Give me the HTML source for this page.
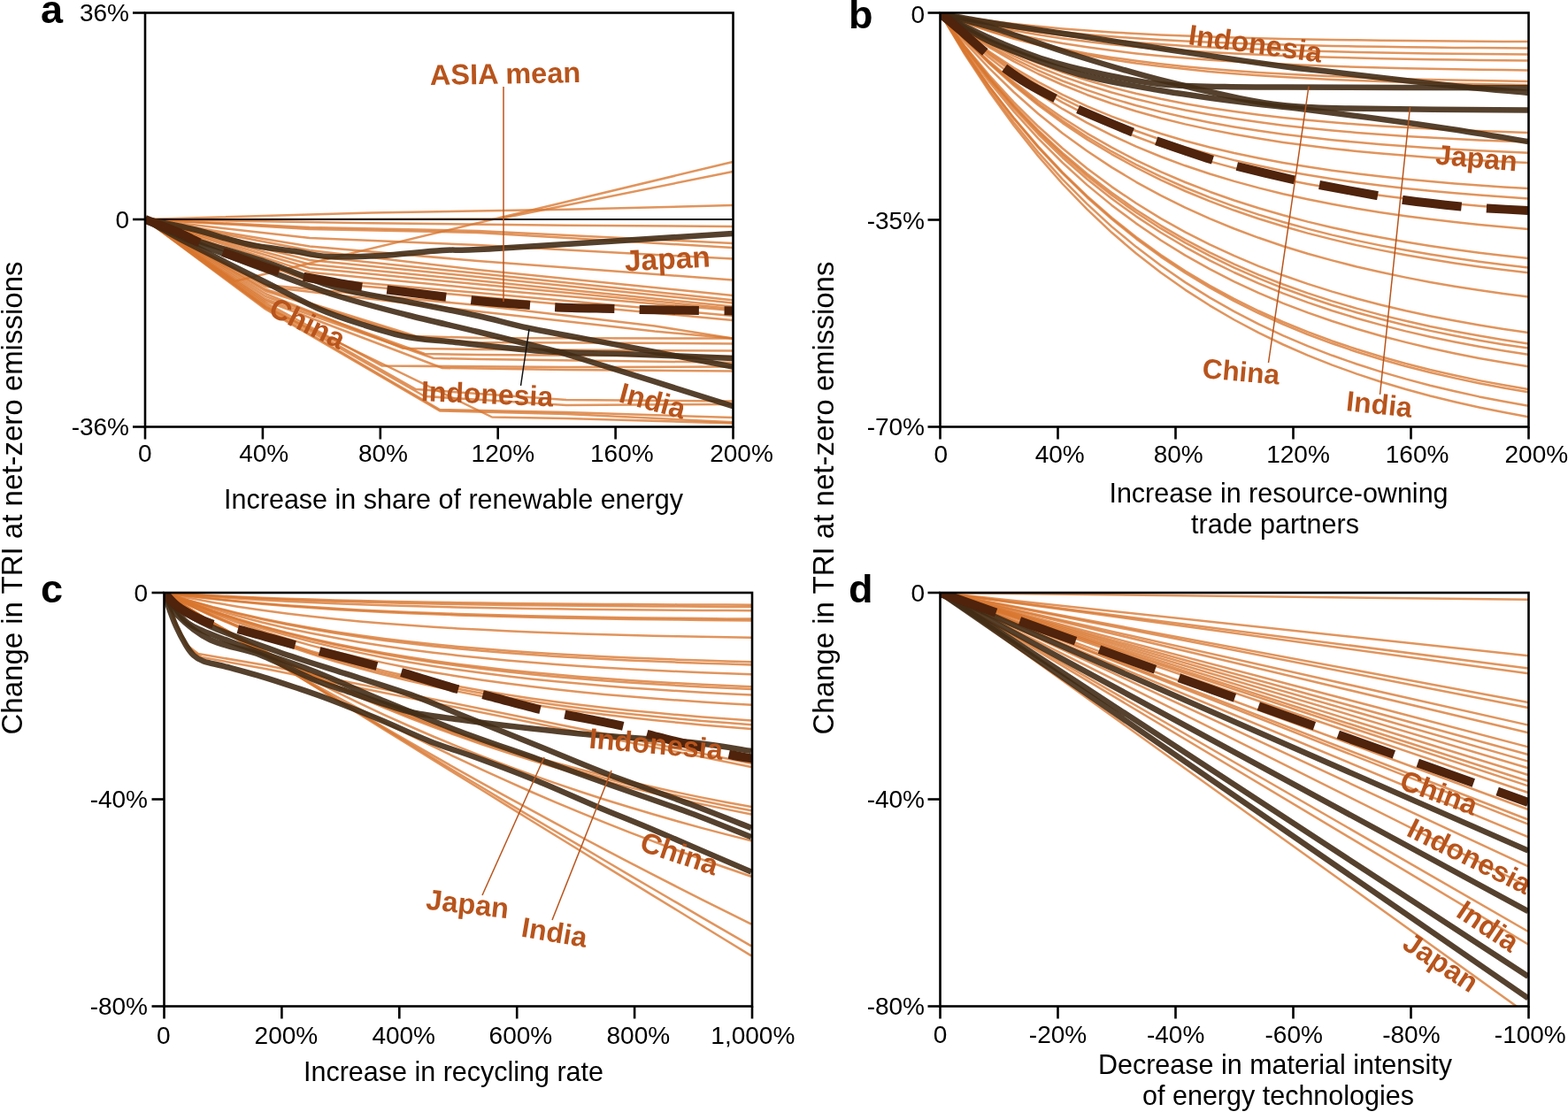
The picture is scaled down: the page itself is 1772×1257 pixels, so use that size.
<!DOCTYPE html>
<html><head><meta charset="utf-8"><title>Change in TRI at net-zero emissions</title>
<style>html,body{margin:0;padding:0;background:#fff;}svg{display:block;}</style>
</head><body>
<svg width="1772" height="1257" viewBox="0 0 1772 1257">
<defs>
<clipPath id="ca"><rect x="164" y="14.5" width="664.5" height="468.0"/></clipPath>
<clipPath id="cb"><rect x="1062.5" y="14.5" width="665.0" height="468.0"/></clipPath>
<clipPath id="cc"><rect x="185.5" y="670" width="664.5" height="467.5"/></clipPath>
<clipPath id="cd"><rect x="1062.5" y="670" width="665.0" height="467.5"/></clipPath>
</defs>
<rect width="1772" height="1257" fill="#fff"/>
<g clip-path="url(#ca)">
<polyline points="164.0,248.0 265.0,318.0 828.0,183.0" fill="none" stroke="#D9762E" stroke-width="2.5" stroke-opacity="0.78" stroke-linejoin="round" />
<polyline points="164.0,248.0 563.0,247.5 828.0,194.0" fill="none" stroke="#D9762E" stroke-width="2.5" stroke-opacity="0.78" stroke-linejoin="round" />
<polyline points="164.0,248.0 420.0,240.5 640.0,236.8 828.0,232.0" fill="none" stroke="#D9762E" stroke-width="2.5" stroke-opacity="0.78" stroke-linejoin="round" />
<polyline points="164.0,248.0 420.0,252.3 640.0,254.8 828.0,256.0" fill="none" stroke="#D9762E" stroke-width="2.5" stroke-opacity="0.78" stroke-linejoin="round" />
<polyline points="164.0,248.0 350.0,257.0 540.0,261.0 828.0,275.0" fill="none" stroke="#D9762E" stroke-width="2.5" stroke-opacity="0.78" stroke-linejoin="round" />
<polyline points="164.0,248.0 350.0,259.0 540.0,263.0 828.0,280.0" fill="none" stroke="#D9762E" stroke-width="2.5" stroke-opacity="0.78" stroke-linejoin="round" />
<polyline points="164.0,248.0 350.0,269.0 540.0,277.0 828.0,292.6" fill="none" stroke="#D9762E" stroke-width="2.5" stroke-opacity="0.78" stroke-linejoin="round" />
<polyline points="164.0,248.0 350.0,278.4 540.0,295.0 828.0,316.5" fill="none" stroke="#D9762E" stroke-width="2.5" stroke-opacity="0.78" stroke-linejoin="round" />
<polyline points="164.0,248.0 350.0,282.9 540.0,305.0 828.0,334.0" fill="none" stroke="#D9762E" stroke-width="2.5" stroke-opacity="0.78" stroke-linejoin="round" />
<polyline points="164.0,248.0 350.0,289.6 540.0,309.0 828.0,339.3" fill="none" stroke="#D9762E" stroke-width="2.5" stroke-opacity="0.78" stroke-linejoin="round" />
<polyline points="164.0,248.0 350.0,294.0 540.0,313.0 828.0,342.6" fill="none" stroke="#D9762E" stroke-width="2.5" stroke-opacity="0.78" stroke-linejoin="round" />
<polyline points="164.0,248.0 350.0,298.7 540.0,317.2 828.0,346.6" fill="none" stroke="#D9762E" stroke-width="2.5" stroke-opacity="0.78" stroke-linejoin="round" />
<polyline points="164.0,248.0 350.0,303.0 540.0,321.3 828.0,349.0" fill="none" stroke="#D9762E" stroke-width="2.5" stroke-opacity="0.78" stroke-linejoin="round" />
<polyline points="164.0,248.0 350.0,307.7 540.0,326.2 828.0,351.0" fill="none" stroke="#D9762E" stroke-width="2.5" stroke-opacity="0.78" stroke-linejoin="round" />
<polyline points="164.0,248.0 350.0,314.5 540.0,331.0 828.0,357.0" fill="none" stroke="#D9762E" stroke-width="2.5" stroke-opacity="0.78" stroke-linejoin="round" />
<polyline points="164.0,248.0 350.0,318.0 540.0,335.2 828.0,362.0" fill="none" stroke="#D9762E" stroke-width="2.5" stroke-opacity="0.78" stroke-linejoin="round" />
<polyline points="164.0,248.0 300.0,322.0 540.0,345.0 740.0,368.6 828.0,382.4" fill="none" stroke="#D9762E" stroke-width="2.5" stroke-opacity="0.78" stroke-linejoin="round" />
<polyline points="164.0,248.0 300.0,324.0 540.0,352.0 740.0,374.6 828.0,382.4" fill="none" stroke="#D9762E" stroke-width="2.5" stroke-opacity="0.78" stroke-linejoin="round" />
<polyline points="164.0,248.0 300.0,327.0 470.0,380.0 540.0,382.0 828.0,382.6" fill="none" stroke="#D9762E" stroke-width="2.5" stroke-opacity="0.78" stroke-linejoin="round" />
<polyline points="164.0,248.0 300.0,329.0 480.0,385.0 540.0,387.0 828.0,388.4" fill="none" stroke="#D9762E" stroke-width="2.5" stroke-opacity="0.78" stroke-linejoin="round" />
<polyline points="164.0,248.0 300.0,332.0 455.0,393.7 540.0,395.0 828.0,396.6" fill="none" stroke="#D9762E" stroke-width="2.5" stroke-opacity="0.78" stroke-linejoin="round" />
<polyline points="164.0,248.0 300.0,335.0 480.0,400.0 540.0,401.0 828.0,403.0" fill="none" stroke="#D9762E" stroke-width="2.5" stroke-opacity="0.78" stroke-linejoin="round" />
<polyline points="164.0,248.0 300.0,338.0 490.0,405.0 540.0,406.0 828.0,409.7" fill="none" stroke="#D9762E" stroke-width="2.5" stroke-opacity="0.78" stroke-linejoin="round" />
<polyline points="164.0,248.0 300.0,342.0 432.0,413.6 640.0,415.0 828.0,414.6" fill="none" stroke="#D9762E" stroke-width="2.5" stroke-opacity="0.78" stroke-linejoin="round" />
<polyline points="164.0,248.0 300.0,340.0 500.0,416.0 640.0,418.0 828.0,419.5" fill="none" stroke="#D9762E" stroke-width="2.5" stroke-opacity="0.78" stroke-linejoin="round" />
<polyline points="164.0,248.0 300.0,344.0 470.0,440.0 640.0,452.0 828.0,453.4" fill="none" stroke="#D9762E" stroke-width="2.5" stroke-opacity="0.78" stroke-linejoin="round" />
<polyline points="164.0,248.0 300.0,346.0 480.0,448.0 640.0,458.0 828.0,457.0" fill="none" stroke="#D9762E" stroke-width="2.5" stroke-opacity="0.78" stroke-linejoin="round" />
<polyline points="164.0,248.0 300.0,348.0 497.0,463.0 640.0,466.0 828.0,472.0" fill="none" stroke="#D9762E" stroke-width="2.5" stroke-opacity="0.78" stroke-linejoin="round" />
<polyline points="164.0,248.0 300.0,349.5 497.0,464.5 640.0,468.0 828.0,477.2" fill="none" stroke="#D9762E" stroke-width="2.5" stroke-opacity="0.78" stroke-linejoin="round" />
<polyline points="164.0,248.0 300.0,347.0 556.0,471.5 640.0,473.0 828.0,478.4" fill="none" stroke="#D9762E" stroke-width="2.5" stroke-opacity="0.78" stroke-linejoin="round" />
<line x1="164" y1="248" x2="828.5" y2="248" stroke="#111" stroke-width="2"/>
<path d="M164.0,248.0 C173.0,249.8 198.7,254.3 218.0,259.0 C237.3,263.7 260.8,271.8 280.0,276.0 C299.2,280.2 317.8,281.7 333.0,284.0 C348.2,286.3 354.8,289.2 371.0,290.0 C387.2,290.8 408.5,290.2 430.0,289.0 C451.5,287.8 478.3,284.3 500.0,283.0 C521.7,281.7 505.3,284.2 560.0,281.0 C614.7,277.8 783.3,266.8 828.0,264.0" fill="none" stroke="#422C16" stroke-width="6.5" stroke-opacity="0.9" stroke-linejoin="round" />
<path d="M164.0,248.0 C171.7,251.3 187.3,260.0 210.0,268.0 C232.7,276.0 271.7,286.5 300.0,296.0 C328.3,305.5 353.3,317.5 380.0,325.0 C406.7,332.5 433.3,335.7 460.0,341.0 C486.7,346.3 517.0,352.0 540.0,357.0 C563.0,362.0 570.7,365.3 598.0,371.0 C625.3,376.7 665.3,383.7 704.0,391.0 C742.7,398.3 809.0,411.0 830.0,415.0" fill="none" stroke="#422C16" stroke-width="6.5" stroke-opacity="0.9" stroke-linejoin="round" />
<path d="M164.0,248.0 C171.7,251.7 187.3,260.5 210.0,270.0 C232.7,279.5 271.7,294.3 300.0,305.0 C328.3,315.7 353.3,325.5 380.0,334.0 C406.7,342.5 433.3,349.2 460.0,356.0 C486.7,362.8 513.3,368.5 540.0,375.0 C566.7,381.5 600.8,390.0 620.0,395.0 C639.2,400.0 620.0,394.2 655.0,405.0 C690.0,415.8 800.8,450.5 830.0,459.6" fill="none" stroke="#422C16" stroke-width="6.5" stroke-opacity="0.9" stroke-linejoin="round" />
<path d="M164.0,248.0 C171.2,252.0 184.3,260.2 207.0,272.0 C229.7,283.8 274.5,306.2 300.0,319.0 C325.5,331.8 341.7,341.0 360.0,349.0 C378.3,357.0 393.2,361.7 410.0,367.0 C426.8,372.3 443.5,377.7 461.0,381.0 C478.5,384.3 488.5,384.2 515.0,387.0 C541.5,389.8 588.5,395.3 620.0,397.5 C651.5,399.7 669.0,398.8 704.0,400.0 C739.0,401.2 809.0,404.2 830.0,405.0" fill="none" stroke="#422C16" stroke-width="6.5" stroke-opacity="0.9" stroke-linejoin="round" />
<path d="M164.0,248.0 C170.0,250.3 189.8,257.7 200.0,262.0 C210.2,266.3 216.3,270.2 225.0,274.0 C233.7,277.8 237.0,279.5 252.0,285.0 C267.0,290.5 299.7,302.3 315.0,307.0 C330.3,311.7 328.3,310.1 344.0,313.0 C359.7,315.9 393.3,322.1 409.0,324.5 C424.7,326.9 416.2,324.9 438.0,327.5 C459.8,330.1 513.0,337.1 540.0,340.0 C567.0,342.9 585.0,343.8 600.0,345.0 C615.0,346.2 614.2,346.8 630.0,347.5 C645.8,348.2 679.3,348.6 695.0,349.0 C710.7,349.4 708.0,349.7 724.0,350.0 C740.0,350.3 773.3,350.8 791.0,351.0 C808.7,351.2 823.5,351.4 830.0,351.5" fill="none" stroke="#4F230C" stroke-width="10" stroke-opacity="1" stroke-linejoin="round" stroke-dasharray="67 28.5"/>
</g>
<text x="486" y="96" transform="rotate(-1 486 96)" font-family="'Liberation Sans', Arial, Helvetica, sans-serif" font-weight="bold" font-size="32.5" fill="#B8541C">ASIA mean</text>
<text x="706.5" y="306.5" transform="rotate(-3 706.5 306.5)" font-family="'Liberation Sans', Arial, Helvetica, sans-serif" font-weight="bold" font-size="33.5" fill="#B8541C">Japan</text>
<text x="302" y="355.5" transform="rotate(26 302 355.5)" font-family="'Liberation Sans', Arial, Helvetica, sans-serif" font-weight="bold" font-size="32.5" fill="#B8541C">China</text>
<text x="475.5" y="453" transform="rotate(2.5 475.5 453)" font-family="'Liberation Sans', Arial, Helvetica, sans-serif" font-weight="bold" font-size="32" fill="#B8541C">Indonesia</text>
<text x="698" y="454" transform="rotate(15 698 454)" font-family="'Liberation Sans', Arial, Helvetica, sans-serif" font-weight="bold" font-size="32.5" fill="#B8541C">India</text>
<line x1="569" y1="98" x2="569" y2="341" stroke="#B8541C" stroke-width="1.5"/>
<line x1="588.5" y1="436" x2="598" y2="372" stroke="#111" stroke-width="1.5"/>
<rect x="164" y="14.5" width="664.5" height="468.0" fill="none" stroke="#000" stroke-width="2.6"/>
<line x1="150" y1="14.5" x2="164" y2="14.5" stroke="#000" stroke-width="2.6"/>
<line x1="150" y1="248" x2="164" y2="248" stroke="#000" stroke-width="2.6"/>
<line x1="150" y1="482.5" x2="164" y2="482.5" stroke="#000" stroke-width="2.6"/>
<text x="146" y="24.3" text-anchor="end" font-family="'Liberation Sans', Arial, Helvetica, sans-serif" font-size="28" fill="#000">36%</text>
<text x="146" y="257.8" text-anchor="end" font-family="'Liberation Sans', Arial, Helvetica, sans-serif" font-size="28" fill="#000">0</text>
<text x="146" y="492.3" text-anchor="end" font-family="'Liberation Sans', Arial, Helvetica, sans-serif" font-size="28" fill="#000">-36%</text>
<line x1="164.0" y1="482.5" x2="164.0" y2="496.5" stroke="#000" stroke-width="2.6"/>
<line x1="296.9" y1="482.5" x2="296.9" y2="496.5" stroke="#000" stroke-width="2.6"/>
<line x1="429.8" y1="482.5" x2="429.8" y2="496.5" stroke="#000" stroke-width="2.6"/>
<line x1="562.7" y1="482.5" x2="562.7" y2="496.5" stroke="#000" stroke-width="2.6"/>
<line x1="695.6" y1="482.5" x2="695.6" y2="496.5" stroke="#000" stroke-width="2.6"/>
<line x1="828.5" y1="482.5" x2="828.5" y2="496.5" stroke="#000" stroke-width="2.6"/>
<text x="163.8" y="521.8" text-anchor="middle" font-family="'Liberation Sans', Arial, Helvetica, sans-serif" font-size="28" fill="#000">0</text>
<text x="298.2" y="521.8" text-anchor="middle" font-family="'Liberation Sans', Arial, Helvetica, sans-serif" font-size="28" fill="#000">40%</text>
<text x="432.9" y="521.8" text-anchor="middle" font-family="'Liberation Sans', Arial, Helvetica, sans-serif" font-size="28" fill="#000">80%</text>
<text x="568.4" y="521.8" text-anchor="middle" font-family="'Liberation Sans', Arial, Helvetica, sans-serif" font-size="28" fill="#000">120%</text>
<text x="702.8" y="521.8" text-anchor="middle" font-family="'Liberation Sans', Arial, Helvetica, sans-serif" font-size="28" fill="#000">160%</text>
<text x="838" y="521.8" text-anchor="middle" font-family="'Liberation Sans', Arial, Helvetica, sans-serif" font-size="28" fill="#000">200%</text>
<g clip-path="url(#cb)">
<polyline points="1062.5,15.0 1090.2,19.6 1117.9,23.5 1145.6,26.9 1173.2,29.8 1200.9,32.4 1228.6,34.5 1256.3,36.4 1284.0,38.0 1311.7,39.4 1339.4,40.6 1367.1,41.6 1394.8,42.5 1422.4,43.2 1450.1,43.9 1477.8,44.4 1505.5,44.9 1533.2,45.3 1560.9,45.7 1588.6,46.0 1616.2,46.3 1643.9,46.5 1671.6,46.7 1699.3,46.9 1727.0,47.0" fill="none" stroke="#D9762E" stroke-width="2.5" stroke-opacity="0.78" stroke-linejoin="round" />
<polyline points="1062.5,15.0 1090.2,20.6 1117.9,25.4 1145.6,29.6 1173.2,33.2 1200.9,36.3 1228.6,39.0 1256.3,41.3 1284.0,43.3 1311.7,45.0 1339.4,46.4 1367.1,47.7 1394.8,48.8 1422.4,49.7 1450.1,50.6 1477.8,51.3 1505.5,51.9 1533.2,52.4 1560.9,52.8 1588.6,53.2 1616.2,53.6 1643.9,53.9 1671.6,54.1 1699.3,54.3 1727.0,54.5" fill="none" stroke="#D9762E" stroke-width="2.5" stroke-opacity="0.78" stroke-linejoin="round" />
<polyline points="1062.5,15.0 1090.2,21.5 1117.9,27.2 1145.6,32.1 1173.2,36.3 1200.9,39.9 1228.6,43.1 1256.3,45.8 1284.0,48.1 1311.7,50.1 1339.4,51.9 1367.1,53.4 1394.8,54.7 1422.4,55.8 1450.1,56.8 1477.8,57.6 1505.5,58.3 1533.2,59.0 1560.9,59.5 1588.6,60.0 1616.2,60.4 1643.9,60.7 1671.6,61.0 1699.3,61.3 1727.0,61.5" fill="none" stroke="#D9762E" stroke-width="2.5" stroke-opacity="0.78" stroke-linejoin="round" />
<polyline points="1062.5,15.0 1090.2,22.5 1117.9,28.9 1145.6,34.5 1173.2,39.3 1200.9,43.5 1228.6,47.1 1256.3,50.2 1284.0,52.9 1311.7,55.3 1339.4,57.3 1367.1,59.0 1394.8,60.5 1422.4,61.8 1450.1,63.0 1477.8,64.0 1505.5,64.8 1533.2,65.5 1560.9,66.2 1588.6,66.7 1616.2,67.2 1643.9,67.6 1671.6,67.9 1699.3,68.2 1727.0,68.5" fill="none" stroke="#D9762E" stroke-width="2.5" stroke-opacity="0.78" stroke-linejoin="round" />
<polyline points="1062.5,15.0 1090.2,23.9 1117.9,31.6 1145.6,38.2 1173.2,44.0 1200.9,49.0 1228.6,53.3 1256.3,57.1 1284.0,60.4 1311.7,63.2 1339.4,65.6 1367.1,67.8 1394.8,69.6 1422.4,71.2 1450.1,72.6 1477.8,73.8 1505.5,74.8 1533.2,75.7 1560.9,76.5 1588.6,77.2 1616.2,77.7 1643.9,78.2 1671.6,78.7 1699.3,79.1 1727.0,79.4" fill="none" stroke="#D9762E" stroke-width="2.5" stroke-opacity="0.78" stroke-linejoin="round" />
<polyline points="1062.5,15.0 1090.2,25.4 1117.9,34.5 1145.6,42.4 1173.2,49.3 1200.9,55.2 1228.6,60.4 1256.3,64.9 1284.0,68.8 1311.7,72.2 1339.4,75.2 1367.1,77.7 1394.8,79.9 1422.4,81.9 1450.1,83.6 1477.8,85.0 1505.5,86.3 1533.2,87.4 1560.9,88.4 1588.6,89.2 1616.2,89.9 1643.9,90.6 1671.6,91.1 1699.3,91.6 1727.0,92.0" fill="none" stroke="#D9762E" stroke-width="2.5" stroke-opacity="0.78" stroke-linejoin="round" />
<polyline points="1062.5,15.0 1090.2,25.9 1117.9,35.4 1145.6,43.7 1173.2,50.9 1200.9,57.2 1228.6,62.6 1256.3,67.3 1284.0,71.5 1311.7,75.0 1339.4,78.1 1367.1,80.9 1394.8,83.2 1422.4,85.3 1450.1,87.0 1477.8,88.6 1505.5,89.9 1533.2,91.1 1560.9,92.1 1588.6,93.0 1616.2,93.8 1643.9,94.5 1671.6,95.1 1699.3,95.6 1727.0,96.0" fill="none" stroke="#D9762E" stroke-width="2.5" stroke-opacity="0.78" stroke-linejoin="round" />
<polyline points="1062.5,15.0 1090.2,32.0 1117.9,47.0 1145.6,60.1 1173.2,71.7 1200.9,81.9 1228.6,90.9 1256.3,98.8 1284.0,105.7 1311.7,111.8 1339.4,117.2 1367.1,121.9 1394.8,126.1 1422.4,129.7 1450.1,133.0 1477.8,135.8 1505.5,138.3 1533.2,140.5 1560.9,142.4 1588.6,144.1 1616.2,145.6 1643.9,146.9 1671.6,148.1 1699.3,149.1 1727.0,150.0" fill="none" stroke="#D9762E" stroke-width="2.5" stroke-opacity="0.78" stroke-linejoin="round" />
<polyline points="1062.5,15.0 1090.2,33.1 1117.9,49.0 1145.6,63.1 1173.2,75.5 1200.9,86.4 1228.6,96.0 1256.3,104.5 1284.0,112.0 1311.7,118.6 1339.4,124.5 1367.1,129.6 1394.8,134.1 1422.4,138.1 1450.1,141.7 1477.8,144.8 1505.5,147.5 1533.2,149.9 1560.9,152.1 1588.6,153.9 1616.2,155.6 1643.9,157.1 1671.6,158.4 1699.3,159.5 1727.0,160.5" fill="none" stroke="#D9762E" stroke-width="2.5" stroke-opacity="0.78" stroke-linejoin="round" />
<polyline points="1062.5,15.0 1090.2,34.3 1117.9,51.3 1145.6,66.4 1173.2,79.7 1200.9,91.5 1228.6,101.9 1256.3,111.1 1284.0,119.2 1311.7,126.4 1339.4,132.8 1367.1,138.4 1394.8,143.4 1422.4,147.8 1450.1,151.7 1477.8,155.1 1505.5,158.2 1533.2,160.8 1560.9,163.2 1588.6,165.3 1616.2,167.2 1643.9,168.8 1671.6,170.3 1699.3,171.6 1727.0,172.7" fill="none" stroke="#D9762E" stroke-width="2.5" stroke-opacity="0.78" stroke-linejoin="round" />
<polyline points="1062.5,15.0 1090.2,35.3 1117.9,53.4 1145.6,69.3 1173.2,83.5 1200.9,96.0 1228.6,107.2 1256.3,117.0 1284.0,125.8 1311.7,133.5 1339.4,140.4 1367.1,146.4 1394.8,151.8 1422.4,156.6 1450.1,160.9 1477.8,164.6 1505.5,167.9 1533.2,170.9 1560.9,173.5 1588.6,175.8 1616.2,177.9 1643.9,179.7 1671.6,181.3 1699.3,182.7 1727.0,184.0" fill="none" stroke="#D9762E" stroke-width="2.5" stroke-opacity="0.78" stroke-linejoin="round" />
<polyline points="1062.5,15.0 1090.2,37.9 1117.9,58.3 1145.6,76.5 1173.2,92.7 1200.9,107.2 1228.6,120.1 1256.3,131.6 1284.0,141.9 1311.7,151.0 1339.4,159.2 1367.1,166.5 1394.8,173.0 1422.4,178.8 1450.1,184.0 1477.8,188.6 1505.5,192.7 1533.2,196.3 1560.9,199.6 1588.6,202.5 1616.2,205.1 1643.9,207.4 1671.6,209.5 1699.3,211.4 1727.0,213.0" fill="none" stroke="#D9762E" stroke-width="2.5" stroke-opacity="0.78" stroke-linejoin="round" />
<polyline points="1062.5,15.0 1090.2,38.8 1117.9,60.1 1145.6,79.1 1173.2,96.1 1200.9,111.4 1228.6,124.9 1256.3,137.1 1284.0,148.0 1311.7,157.7 1339.4,166.4 1367.1,174.1 1394.8,181.1 1422.4,187.3 1450.1,192.9 1477.8,197.8 1505.5,202.2 1533.2,206.2 1560.9,209.8 1588.6,212.9 1616.2,215.8 1643.9,218.3 1671.6,220.6 1699.3,222.6 1727.0,224.4" fill="none" stroke="#D9762E" stroke-width="2.5" stroke-opacity="0.78" stroke-linejoin="round" />
<polyline points="1062.5,15.0 1090.2,39.8 1117.9,62.0 1145.6,81.9 1173.2,99.8 1200.9,115.8 1228.6,130.1 1256.3,143.0 1284.0,154.5 1311.7,164.9 1339.4,174.1 1367.1,182.4 1394.8,189.9 1422.4,196.6 1450.1,202.6 1477.8,207.9 1505.5,212.7 1533.2,217.0 1560.9,220.9 1588.6,224.4 1616.2,227.5 1643.9,230.3 1671.6,232.8 1699.3,235.0 1727.0,237.0" fill="none" stroke="#D9762E" stroke-width="2.5" stroke-opacity="0.78" stroke-linejoin="round" />
<polyline points="1062.5,15.0 1090.2,41.4 1117.9,65.1 1145.6,86.5 1173.2,105.8 1200.9,123.2 1228.6,138.8 1256.3,152.9 1284.0,165.6 1311.7,177.0 1339.4,187.3 1367.1,196.5 1394.8,204.9 1422.4,212.4 1450.1,219.2 1477.8,225.3 1505.5,230.8 1533.2,235.7 1560.9,240.2 1588.6,244.2 1616.2,247.8 1643.9,251.0 1671.6,254.0 1699.3,256.6 1727.0,259.0" fill="none" stroke="#D9762E" stroke-width="2.5" stroke-opacity="0.78" stroke-linejoin="round" />
<polyline points="1062.5,15.0 1090.2,43.5 1117.9,69.3 1145.6,92.8 1173.2,114.0 1200.9,133.3 1228.6,150.8 1256.3,166.7 1284.0,181.1 1311.7,194.1 1339.4,206.0 1367.1,216.7 1394.8,226.5 1422.4,235.3 1450.1,243.3 1477.8,250.6 1505.5,257.2 1533.2,263.2 1560.9,268.6 1588.6,273.5 1616.2,278.0 1643.9,282.1 1671.6,285.7 1699.3,289.1 1727.0,292.1" fill="none" stroke="#D9762E" stroke-width="2.5" stroke-opacity="0.78" stroke-linejoin="round" />
<polyline points="1062.5,15.0 1090.2,44.2 1117.9,70.7 1145.6,94.8 1173.2,116.7 1200.9,136.6 1228.6,154.7 1256.3,171.2 1284.0,186.1 1311.7,199.7 1339.4,212.0 1367.1,223.2 1394.8,233.4 1422.4,242.6 1450.1,251.0 1477.8,258.6 1505.5,265.6 1533.2,271.9 1560.9,277.6 1588.6,282.8 1616.2,287.5 1643.9,291.8 1671.6,295.7 1699.3,299.3 1727.0,302.5" fill="none" stroke="#D9762E" stroke-width="2.5" stroke-opacity="0.78" stroke-linejoin="round" />
<polyline points="1062.5,15.0 1090.2,44.8 1117.9,71.9 1145.6,96.5 1173.2,118.8 1200.9,139.1 1228.6,157.6 1256.3,174.3 1284.0,189.5 1311.7,203.4 1339.4,216.0 1367.1,227.4 1394.8,237.8 1422.4,247.2 1450.1,255.8 1477.8,263.6 1505.5,270.6 1533.2,277.1 1560.9,282.9 1588.6,288.2 1616.2,293.0 1643.9,297.4 1671.6,301.4 1699.3,305.0 1727.0,308.3" fill="none" stroke="#D9762E" stroke-width="2.5" stroke-opacity="0.78" stroke-linejoin="round" />
<polyline points="1062.5,15.0 1090.2,47.6 1117.9,77.1 1145.6,104.0 1173.2,128.5 1200.9,150.7 1228.6,170.8 1256.3,189.1 1284.0,205.8 1311.7,220.9 1339.4,234.7 1367.1,247.2 1394.8,258.5 1422.4,268.8 1450.1,278.2 1477.8,286.7 1505.5,294.4 1533.2,301.5 1560.9,307.8 1588.6,313.6 1616.2,318.9 1643.9,323.7 1671.6,328.1 1699.3,332.0 1727.0,335.6" fill="none" stroke="#D9762E" stroke-width="2.5" stroke-opacity="0.78" stroke-linejoin="round" />
<polyline points="1062.5,15.0 1090.2,51.7 1117.9,85.0 1145.6,115.3 1173.2,142.8 1200.9,167.7 1228.6,190.5 1256.3,211.1 1284.0,229.8 1311.7,246.9 1339.4,262.3 1367.1,276.4 1394.8,289.2 1422.4,300.8 1450.1,311.3 1477.8,320.9 1505.5,329.6 1533.2,337.5 1560.9,344.7 1588.6,351.3 1616.2,357.2 1643.9,362.6 1671.6,367.5 1699.3,372.0 1727.0,376.0" fill="none" stroke="#D9762E" stroke-width="2.5" stroke-opacity="0.78" stroke-linejoin="round" />
<polyline points="1062.5,15.0 1090.2,52.9 1117.9,87.4 1145.6,118.7 1173.2,147.1 1200.9,173.0 1228.6,196.5 1256.3,217.8 1284.0,237.2 1311.7,254.8 1339.4,270.8 1367.1,285.4 1394.8,298.6 1422.4,310.6 1450.1,321.5 1477.8,331.4 1505.5,340.4 1533.2,348.6 1560.9,356.1 1588.6,362.8 1616.2,369.0 1643.9,374.5 1671.6,379.6 1699.3,384.2 1727.0,388.4" fill="none" stroke="#D9762E" stroke-width="2.5" stroke-opacity="0.78" stroke-linejoin="round" />
<polyline points="1062.5,15.0 1090.2,53.5 1117.9,88.4 1145.6,120.1 1173.2,149.0 1200.9,175.2 1228.6,199.0 1256.3,220.6 1284.0,240.3 1311.7,258.2 1339.4,274.4 1367.1,289.2 1394.8,302.6 1422.4,314.7 1450.1,325.8 1477.8,335.8 1505.5,345.0 1533.2,353.3 1560.9,360.8 1588.6,367.7 1616.2,373.9 1643.9,379.5 1671.6,384.7 1699.3,389.4 1727.0,393.6" fill="none" stroke="#D9762E" stroke-width="2.5" stroke-opacity="0.78" stroke-linejoin="round" />
<polyline points="1062.5,15.0 1090.2,54.2 1117.9,89.8 1145.6,122.1 1173.2,151.5 1200.9,178.2 1228.6,202.5 1256.3,224.6 1284.0,244.6 1311.7,262.8 1339.4,279.3 1367.1,294.4 1394.8,308.0 1422.4,320.4 1450.1,331.7 1477.8,341.9 1505.5,351.3 1533.2,359.7 1560.9,367.4 1588.6,374.4 1616.2,380.7 1643.9,386.5 1671.6,391.7 1699.3,396.5 1727.0,400.8" fill="none" stroke="#D9762E" stroke-width="2.5" stroke-opacity="0.78" stroke-linejoin="round" />
<polyline points="1062.5,15.0 1090.2,55.6 1117.9,92.4 1145.6,125.9 1173.2,156.3 1200.9,184.0 1228.6,209.1 1256.3,231.9 1284.0,252.6 1311.7,271.5 1339.4,288.6 1367.1,304.1 1394.8,318.3 1422.4,331.1 1450.1,342.8 1477.8,353.4 1505.5,363.0 1533.2,371.8 1560.9,379.7 1588.6,386.9 1616.2,393.5 1643.9,399.5 1671.6,404.9 1699.3,409.8 1727.0,414.3" fill="none" stroke="#D9762E" stroke-width="2.5" stroke-opacity="0.78" stroke-linejoin="round" />
<polyline points="1062.5,15.0 1090.2,58.2 1117.9,97.4 1145.6,133.1 1173.2,165.4 1200.9,194.9 1228.6,221.6 1256.3,245.9 1284.0,268.0 1311.7,288.0 1339.4,306.3 1367.1,322.8 1394.8,337.9 1422.4,351.5 1450.1,364.0 1477.8,375.2 1505.5,385.5 1533.2,394.8 1560.9,403.3 1588.6,411.0 1616.2,418.0 1643.9,424.3 1671.6,430.1 1699.3,435.3 1727.0,440.1" fill="none" stroke="#D9762E" stroke-width="2.5" stroke-opacity="0.78" stroke-linejoin="round" />
<polyline points="1062.5,15.0 1090.2,58.5 1117.9,98.0 1145.6,133.9 1173.2,166.6 1200.9,196.2 1228.6,223.2 1256.3,247.6 1284.0,269.9 1311.7,290.1 1339.4,308.5 1367.1,325.1 1394.8,340.3 1422.4,354.1 1450.1,366.6 1477.8,378.0 1505.5,388.3 1533.2,397.7 1560.9,406.2 1588.6,414.0 1616.2,421.0 1643.9,427.4 1671.6,433.2 1699.3,438.5 1727.0,443.3" fill="none" stroke="#D9762E" stroke-width="2.5" stroke-opacity="0.78" stroke-linejoin="round" />
<polyline points="1062.5,15.0 1090.2,60.1 1117.9,101.0 1145.6,138.2 1173.2,172.1 1200.9,202.8 1228.6,230.7 1256.3,256.1 1284.0,279.1 1311.7,300.0 1339.4,319.1 1367.1,336.4 1394.8,352.1 1422.4,366.3 1450.1,379.3 1477.8,391.1 1505.5,401.8 1533.2,411.5 1560.9,420.4 1588.6,428.4 1616.2,435.7 1643.9,442.3 1671.6,448.4 1699.3,453.8 1727.0,458.8" fill="none" stroke="#D9762E" stroke-width="2.5" stroke-opacity="0.78" stroke-linejoin="round" />
<polyline points="1062.5,15.0 1090.2,61.3 1117.9,103.4 1145.6,141.7 1173.2,176.4 1200.9,208.0 1228.6,236.7 1256.3,262.8 1284.0,286.5 1311.7,308.0 1339.4,327.6 1367.1,345.3 1394.8,361.5 1422.4,376.2 1450.1,389.5 1477.8,401.6 1505.5,412.6 1533.2,422.6 1560.9,431.7 1588.6,440.0 1616.2,447.5 1643.9,454.3 1671.6,460.5 1699.3,466.1 1727.0,471.2" fill="none" stroke="#D9762E" stroke-width="2.5" stroke-opacity="0.78" stroke-linejoin="round" />
<path d="M1062.5,15.0 C1067.9,16.1 1084.1,19.5 1095.0,21.5 C1105.9,23.5 1105.7,23.6 1128.0,27.0 C1150.3,30.4 1200.3,37.7 1229.0,42.0 C1257.7,46.3 1278.2,49.7 1300.0,53.0 C1321.8,56.3 1335.0,58.3 1360.0,62.0 C1385.0,65.7 1426.8,71.9 1450.0,75.0 C1473.2,78.1 1470.2,77.2 1499.0,80.5 C1527.8,83.8 1585.0,90.9 1623.0,95.0 C1661.0,99.1 1709.7,103.3 1727.0,105.0" fill="none" stroke="#422C16" stroke-width="6.5" stroke-opacity="0.9" stroke-linejoin="round" />
<path d="M1062.5,15.0 C1067.9,16.5 1083.8,20.8 1095.0,24.0 C1106.2,27.2 1109.2,27.3 1130.0,34.0 C1150.8,40.7 1190.0,54.7 1220.0,64.0 C1250.0,73.3 1280.0,82.2 1310.0,90.0 C1340.0,97.8 1376.7,106.2 1400.0,111.0 C1423.3,115.8 1430.0,117.1 1450.0,119.0 C1470.0,120.9 1473.8,121.6 1520.0,122.5 C1566.2,123.4 1692.5,124.2 1727.0,124.6" fill="none" stroke="#422C16" stroke-width="6.5" stroke-opacity="0.9" stroke-linejoin="round" />
<path d="M1062.5,15.0 C1067.9,17.8 1083.8,26.5 1095.0,32.0 C1106.2,37.5 1115.8,42.2 1130.0,48.0 C1144.2,53.8 1162.0,61.3 1180.0,67.0 C1198.0,72.7 1216.3,77.3 1238.0,82.0 C1259.7,86.7 1286.3,92.3 1310.0,95.0 C1333.7,97.7 1356.7,97.4 1380.0,98.0 C1403.3,98.6 1392.2,98.4 1450.0,98.6 C1507.8,98.8 1680.8,99.1 1727.0,99.2" fill="none" stroke="#422C16" stroke-width="6.5" stroke-opacity="0.9" stroke-linejoin="round" />
<path d="M1062.5,15.0 C1067.9,18.2 1083.8,27.8 1095.0,34.0 C1106.2,40.2 1109.2,43.7 1130.0,52.0 C1150.8,60.3 1190.0,75.7 1220.0,84.0 C1250.0,92.3 1280.0,96.8 1310.0,102.0 C1340.0,107.2 1373.3,111.5 1400.0,115.0 C1426.7,118.5 1445.3,120.0 1470.0,123.0 C1494.7,126.0 1519.7,129.2 1548.0,133.0 C1576.3,136.8 1610.2,141.5 1640.0,146.0 C1669.8,150.5 1712.5,157.7 1727.0,160.0" fill="none" stroke="#422C16" stroke-width="6.5" stroke-opacity="0.9" stroke-linejoin="round" />
<path d="M1062.5,15.0 C1066.2,18.2 1076.9,27.0 1085.0,34.0 C1093.1,41.0 1102.8,50.0 1111.0,57.0 C1119.2,64.0 1125.5,69.7 1134.0,76.0 C1142.5,82.3 1152.2,89.1 1162.0,95.0 C1171.8,100.9 1183.8,106.8 1193.0,111.5 C1202.2,116.2 1202.5,116.7 1217.0,123.0 C1231.5,129.3 1265.2,143.5 1280.0,149.5 C1294.8,155.5 1291.3,153.9 1306.0,159.0 C1320.7,164.1 1352.7,175.2 1368.0,180.0 C1383.3,184.8 1382.5,184.2 1398.0,188.0 C1413.5,191.8 1445.5,199.5 1461.0,203.0 C1476.5,206.5 1475.2,206.0 1491.0,209.0 C1506.8,212.0 1540.2,218.2 1556.0,221.0 C1571.8,223.8 1570.2,223.9 1586.0,226.0 C1601.8,228.1 1635.2,231.9 1651.0,233.5 C1666.8,235.1 1668.3,234.8 1681.0,235.5 C1693.7,236.2 1719.3,237.6 1727.0,238.0" fill="none" stroke="#4F230C" stroke-width="10" stroke-opacity="1" stroke-linejoin="round" stroke-dasharray="67 28.5"/>
</g>
<text x="1342" y="50" transform="rotate(7.8 1342 50)" font-family="'Liberation Sans', Arial, Helvetica, sans-serif" font-weight="bold" font-size="32.5" fill="#B8541C">Indonesia</text>
<text x="1621.5" y="185.5" transform="rotate(5 1621.5 185.5)" font-family="'Liberation Sans', Arial, Helvetica, sans-serif" font-weight="bold" font-size="32" fill="#B8541C">Japan</text>
<text x="1358" y="427" transform="rotate(5 1358 427)" font-family="'Liberation Sans', Arial, Helvetica, sans-serif" font-weight="bold" font-size="31.5" fill="#B8541C">China</text>
<text x="1520.5" y="464" transform="rotate(6 1520.5 464)" font-family="'Liberation Sans', Arial, Helvetica, sans-serif" font-weight="bold" font-size="32" fill="#B8541C">India</text>
<line x1="1433.5" y1="410" x2="1479" y2="97.5" stroke="#B8541C" stroke-width="1.5"/>
<line x1="1559.5" y1="446" x2="1593.5" y2="121" stroke="#B8541C" stroke-width="1.5"/>
<rect x="1062.5" y="14.5" width="665.0" height="468.0" fill="none" stroke="#000" stroke-width="2.6"/>
<line x1="1048.5" y1="14.5" x2="1062.5" y2="14.5" stroke="#000" stroke-width="2.6"/>
<line x1="1048.5" y1="248.5" x2="1062.5" y2="248.5" stroke="#000" stroke-width="2.6"/>
<line x1="1048.5" y1="482.5" x2="1062.5" y2="482.5" stroke="#000" stroke-width="2.6"/>
<text x="1045" y="26.3" text-anchor="end" font-family="'Liberation Sans', Arial, Helvetica, sans-serif" font-size="28" fill="#000">0</text>
<text x="1045" y="258.8" text-anchor="end" font-family="'Liberation Sans', Arial, Helvetica, sans-serif" font-size="28" fill="#000">-35%</text>
<text x="1045" y="492.3" text-anchor="end" font-family="'Liberation Sans', Arial, Helvetica, sans-serif" font-size="28" fill="#000">-70%</text>
<line x1="1062.5" y1="482.5" x2="1062.5" y2="496.5" stroke="#000" stroke-width="2.6"/>
<line x1="1195.5" y1="482.5" x2="1195.5" y2="496.5" stroke="#000" stroke-width="2.6"/>
<line x1="1328.5" y1="482.5" x2="1328.5" y2="496.5" stroke="#000" stroke-width="2.6"/>
<line x1="1461.5" y1="482.5" x2="1461.5" y2="496.5" stroke="#000" stroke-width="2.6"/>
<line x1="1594.5" y1="482.5" x2="1594.5" y2="496.5" stroke="#000" stroke-width="2.6"/>
<line x1="1727.5" y1="482.5" x2="1727.5" y2="496.5" stroke="#000" stroke-width="2.6"/>
<text x="1063.3" y="522.5" text-anchor="middle" font-family="'Liberation Sans', Arial, Helvetica, sans-serif" font-size="28" fill="#000">0</text>
<text x="1197.7" y="522.5" text-anchor="middle" font-family="'Liberation Sans', Arial, Helvetica, sans-serif" font-size="28" fill="#000">40%</text>
<text x="1331.7" y="522.5" text-anchor="middle" font-family="'Liberation Sans', Arial, Helvetica, sans-serif" font-size="28" fill="#000">80%</text>
<text x="1467" y="522.5" text-anchor="middle" font-family="'Liberation Sans', Arial, Helvetica, sans-serif" font-size="28" fill="#000">120%</text>
<text x="1601.6" y="522.5" text-anchor="middle" font-family="'Liberation Sans', Arial, Helvetica, sans-serif" font-size="28" fill="#000">160%</text>
<text x="1736.3" y="522.5" text-anchor="middle" font-family="'Liberation Sans', Arial, Helvetica, sans-serif" font-size="28" fill="#000">200%</text>
<g clip-path="url(#cc)">
<polyline points="185.5,670.0 213.1,671.7 240.8,673.2 268.4,674.5 296.1,675.7 323.7,676.7 351.4,677.6 379.0,678.4 406.7,679.1 434.3,679.7 462.0,680.3 489.6,680.8 517.2,681.2 544.9,681.6 572.5,681.9 600.2,682.2 627.8,682.5 655.5,682.7 683.1,682.9 710.8,683.1 738.4,683.2 766.1,683.4 793.7,683.5 821.4,683.6 849.0,683.7" fill="none" stroke="#D9762E" stroke-width="2.5" stroke-opacity="0.78" stroke-linejoin="round" />
<polyline points="185.5,670.0 213.1,672.0 240.8,673.7 268.4,675.2 296.1,676.6 323.7,677.8 351.4,678.9 379.0,679.8 406.7,680.6 434.3,681.3 462.0,682.0 489.6,682.6 517.2,683.1 544.9,683.5 572.5,683.9 600.2,684.2 627.8,684.5 655.5,684.8 683.1,685.1 710.8,685.3 738.4,685.5 766.1,685.6 793.7,685.8 821.4,685.9 849.0,686.0" fill="none" stroke="#D9762E" stroke-width="2.5" stroke-opacity="0.78" stroke-linejoin="round" />
<polyline points="185.5,670.0 213.1,672.5 240.8,674.6 268.4,676.6 296.1,678.3 323.7,679.8 351.4,681.1 379.0,682.3 406.7,683.3 434.3,684.3 462.0,685.1 489.6,685.8 517.2,686.4 544.9,687.0 572.5,687.5 600.2,687.9 627.8,688.3 655.5,688.7 683.1,689.0 710.8,689.3 738.4,689.5 766.1,689.7 793.7,689.9 821.4,690.1 849.0,690.2" fill="none" stroke="#D9762E" stroke-width="2.5" stroke-opacity="0.78" stroke-linejoin="round" />
<polyline points="185.5,670.0 213.1,673.5 240.8,676.7 268.4,679.5 296.1,682.0 323.7,684.2 351.4,686.1 379.0,687.8 406.7,689.4 434.3,690.7 462.0,691.9 489.6,693.0 517.2,693.9 544.9,694.8 572.5,695.5 600.2,696.2 627.8,696.8 655.5,697.3 683.1,697.7 710.8,698.2 738.4,698.5 766.1,698.8 793.7,699.1 821.4,699.4 849.0,699.6" fill="none" stroke="#D9762E" stroke-width="2.5" stroke-opacity="0.78" stroke-linejoin="round" />
<polyline points="185.5,670.0 213.1,673.7 240.8,677.1 268.4,680.0 296.1,682.7 323.7,685.0 351.4,687.0 379.0,688.9 406.7,690.5 434.3,691.9 462.0,693.2 489.6,694.3 517.2,695.4 544.9,696.3 572.5,697.0 600.2,697.7 627.8,698.4 655.5,698.9 683.1,699.4 710.8,699.9 738.4,700.2 766.1,700.6 793.7,700.9 821.4,701.2 849.0,701.4" fill="none" stroke="#D9762E" stroke-width="2.5" stroke-opacity="0.78" stroke-linejoin="round" />
<polyline points="185.5,670.0 213.1,675.8 240.8,681.0 268.4,685.7 296.1,689.8 323.7,693.5 351.4,696.8 379.0,699.7 406.7,702.4 434.3,704.7 462.0,706.8 489.6,708.7 517.2,710.4 544.9,711.8 572.5,713.2 600.2,714.4 627.8,715.4 655.5,716.4 683.1,717.2 710.8,718.0 738.4,718.7 766.1,719.3 793.7,719.8 821.4,720.3 849.0,720.7" fill="none" stroke="#D9762E" stroke-width="2.5" stroke-opacity="0.78" stroke-linejoin="round" />
<polyline points="185.5,670.0 213.1,678.5 240.8,686.1 268.4,692.9 296.1,699.1 323.7,704.7 351.4,709.7 379.0,714.2 406.7,718.3 434.3,721.9 462.0,725.2 489.6,728.2 517.2,730.9 544.9,733.3 572.5,735.5 600.2,737.4 627.8,739.2 655.5,740.7 683.1,742.2 710.8,743.5 738.4,744.6 766.1,745.7 793.7,746.6 821.4,747.4 849.0,748.2" fill="none" stroke="#D9762E" stroke-width="2.5" stroke-opacity="0.78" stroke-linejoin="round" />
<polyline points="185.5,670.0 213.1,678.7 240.8,686.6 268.4,693.7 296.1,700.1 323.7,705.9 351.4,711.1 379.0,715.8 406.7,720.1 434.3,723.9 462.0,727.3 489.6,730.4 517.2,733.2 544.9,735.7 572.5,738.0 600.2,740.0 627.8,741.9 655.5,743.5 683.1,745.0 710.8,746.4 738.4,747.6 766.1,748.7 793.7,749.7 821.4,750.6 849.0,751.4" fill="none" stroke="#D9762E" stroke-width="2.5" stroke-opacity="0.78" stroke-linejoin="round" />
<polyline points="185.5,670.0 213.1,679.7 240.8,688.4 268.4,696.3 296.1,703.5 323.7,710.0 351.4,715.8 379.0,721.1 406.7,725.9 434.3,730.2 462.0,734.2 489.6,737.7 517.2,740.9 544.9,743.8 572.5,746.4 600.2,748.8 627.8,751.0 655.5,752.9 683.1,754.7 710.8,756.3 738.4,757.7 766.1,759.0 793.7,760.2 821.4,761.2 849.0,762.2" fill="none" stroke="#D9762E" stroke-width="2.5" stroke-opacity="0.78" stroke-linejoin="round" />
<polyline points="185.5,670.0 213.1,680.8 240.8,690.6 268.4,699.5 296.1,707.6 323.7,715.0 351.4,721.6 379.0,727.7 406.7,733.2 434.3,738.2 462.0,742.8 489.6,746.9 517.2,750.7 544.9,754.1 572.5,757.2 600.2,760.0 627.8,762.6 655.5,764.9 683.1,767.0 710.8,768.9 738.4,770.7 766.1,772.3 793.7,773.7 821.4,775.0 849.0,776.2" fill="none" stroke="#D9762E" stroke-width="2.5" stroke-opacity="0.78" stroke-linejoin="round" />
<polyline points="185.5,670.0 213.1,681.0 240.8,691.0 268.4,700.1 296.1,708.4 323.7,715.9 351.4,722.8 379.0,729.0 406.7,734.6 434.3,739.8 462.0,744.5 489.6,748.7 517.2,752.6 544.9,756.1 572.5,759.3 600.2,762.2 627.8,764.9 655.5,767.3 683.1,769.5 710.8,771.5 738.4,773.3 766.1,774.9 793.7,776.4 821.4,777.8 849.0,779.0" fill="none" stroke="#D9762E" stroke-width="2.5" stroke-opacity="0.78" stroke-linejoin="round" />
<polyline points="185.5,670.0 213.1,681.5 240.8,692.0 268.4,701.5 296.1,710.2 323.7,718.1 351.4,725.4 379.0,731.9 406.7,737.9 434.3,743.4 462.0,748.4 489.6,752.9 517.2,757.1 544.9,760.8 572.5,764.3 600.2,767.4 627.8,770.2 655.5,772.8 683.1,775.2 710.8,777.4 738.4,779.3 766.1,781.1 793.7,782.8 821.4,784.2 849.0,785.6" fill="none" stroke="#D9762E" stroke-width="2.5" stroke-opacity="0.78" stroke-linejoin="round" />
<polyline points="185.5,670.0 213.1,682.3 240.8,693.5 268.4,703.8 296.1,713.2 323.7,721.8 351.4,729.6 379.0,736.8 406.7,743.4 434.3,749.4 462.0,754.9 489.6,759.9 517.2,764.5 544.9,768.7 572.5,772.5 600.2,776.0 627.8,779.2 655.5,782.2 683.1,784.9 710.8,787.3 738.4,789.6 766.1,791.6 793.7,793.5 821.4,795.2 849.0,796.8" fill="none" stroke="#D9762E" stroke-width="2.5" stroke-opacity="0.78" stroke-linejoin="round" />
<polyline points="185.5,670.0 213.1,683.4 240.8,695.7 268.4,707.1 296.1,717.5 323.7,727.1 351.4,735.9 379.0,744.0 406.7,751.5 434.3,758.4 462.0,764.7 489.6,770.5 517.2,775.8 544.9,780.7 572.5,785.2 600.2,789.4 627.8,793.2 655.5,796.7 683.1,799.9 710.8,802.9 738.4,805.6 766.1,808.1 793.7,810.4 821.4,812.5 849.0,814.5" fill="none" stroke="#D9762E" stroke-width="2.5" stroke-opacity="0.78" stroke-linejoin="round" />
<polyline points="185.5,670.0 213.1,683.7 240.8,696.3 268.4,707.9 296.1,718.6 323.7,728.4 351.4,737.5 379.0,745.9 406.7,753.6 434.3,760.6 462.0,767.2 489.6,773.2 517.2,778.7 544.9,783.8 572.5,788.5 600.2,792.8 627.8,796.8 655.5,800.5 683.1,803.9 710.8,807.0 738.4,809.8 766.1,812.5 793.7,814.9 821.4,817.1 849.0,819.2" fill="none" stroke="#D9762E" stroke-width="2.5" stroke-opacity="0.78" stroke-linejoin="round" />
<polyline points="185.5,670.0 213.1,684.0 240.8,696.8 268.4,708.7 296.1,719.7 323.7,729.8 351.4,739.1 379.0,747.7 406.7,755.6 434.3,762.9 462.0,769.6 489.6,775.9 517.2,781.6 544.9,786.9 572.5,791.8 600.2,796.3 627.8,800.4 655.5,804.2 683.1,807.8 710.8,811.0 738.4,814.0 766.1,816.8 793.7,819.4 821.4,821.7 849.0,823.9" fill="none" stroke="#D9762E" stroke-width="2.5" stroke-opacity="0.78" stroke-linejoin="round" />
<polyline points="185.5,670.0 213.1,687.4 240.8,703.8 268.4,719.4 296.1,734.3 323.7,748.3 351.4,761.6 379.0,774.3 406.7,786.2 434.3,797.6 462.0,808.4 489.6,818.6 517.2,828.3 544.9,837.5 572.5,846.2 600.2,854.5 627.8,862.3 655.5,869.8 683.1,876.8 710.8,883.5 738.4,889.8 766.1,895.9 793.7,901.6 821.4,907.0 849.0,912.1" fill="none" stroke="#D9762E" stroke-width="2.5" stroke-opacity="0.78" stroke-linejoin="round" />
<polyline points="185.5,670.0 213.1,687.5 240.8,704.0 268.4,719.8 296.1,734.7 323.7,748.9 351.4,762.4 379.0,775.2 406.7,787.3 434.3,798.9 462.0,809.8 489.6,820.2 517.2,830.1 544.9,839.5 572.5,848.4 600.2,856.9 627.8,864.9 655.5,872.5 683.1,879.8 710.8,886.7 738.4,893.2 766.1,899.4 793.7,905.3 821.4,910.9 849.0,916.2" fill="none" stroke="#D9762E" stroke-width="2.5" stroke-opacity="0.78" stroke-linejoin="round" />
<polyline points="185.5,670.0 213.1,687.5 240.8,704.2 268.4,720.1 296.1,735.1 323.7,749.5 351.4,763.1 379.0,776.1 406.7,788.4 434.3,800.1 462.0,811.3 489.6,821.9 517.2,831.9 544.9,841.5 572.5,850.6 600.2,859.3 627.8,867.5 655.5,875.4 683.1,882.8 710.8,889.9 738.4,896.6 766.1,903.0 793.7,909.1 821.4,914.9 849.0,920.4" fill="none" stroke="#D9762E" stroke-width="2.5" stroke-opacity="0.78" stroke-linejoin="round" />
<polyline points="185.5,670.0 213.1,688.0 240.8,705.2 268.4,721.8 296.1,737.7 323.7,752.9 351.4,767.6 379.0,781.6 406.7,795.1 434.3,808.1 462.0,820.5 489.6,832.5 517.2,843.9 544.9,854.9 572.5,865.5 600.2,875.6 627.8,885.4 655.5,894.7 683.1,903.7 710.8,912.3 738.4,920.5 766.1,928.5 793.7,936.1 821.4,943.4 849.0,950.4" fill="none" stroke="#D9762E" stroke-width="2.5" stroke-opacity="0.78" stroke-linejoin="round" />
<polyline points="185.5,670.0 213.1,688.1 240.8,705.8 268.4,722.9 296.1,739.6 323.7,755.8 351.4,771.5 379.0,786.8 406.7,801.7 434.3,816.2 462.0,830.3 489.6,843.9 517.2,857.2 544.9,870.2 572.5,882.7 600.2,895.0 627.8,906.9 655.5,918.4 683.1,929.6 710.8,940.6 738.4,951.2 766.1,961.5 793.7,971.6 821.4,981.3 849.0,990.8" fill="none" stroke="#D9762E" stroke-width="2.5" stroke-opacity="0.78" stroke-linejoin="round" />
<polyline points="185.5,670.0 213.1,687.7 240.8,705.2 268.4,722.5 296.1,739.6 323.7,756.5 351.4,773.3 379.0,789.8 406.7,806.2 434.3,822.4 462.0,838.4 489.6,854.2 517.2,869.8 544.9,885.3 572.5,900.6 600.2,915.7 627.8,930.7 655.5,945.5 683.1,960.1 710.8,974.6 738.4,988.9 766.1,1003.1 793.7,1017.1 821.4,1030.9 849.0,1044.6" fill="none" stroke="#D9762E" stroke-width="2.5" stroke-opacity="0.78" stroke-linejoin="round" />
<polyline points="185.5,670.0 213.1,687.3 240.8,704.5 268.4,721.7 296.1,738.8 323.7,755.9 351.4,772.9 379.0,789.8 406.7,806.7 434.3,823.5 462.0,840.3 489.6,857.0 517.2,873.7 544.9,890.3 572.5,906.9 600.2,923.4 627.8,939.8 655.5,956.2 683.1,972.5 710.8,988.8 738.4,1005.0 766.1,1021.2 793.7,1037.3 821.4,1053.4 849.0,1069.4" fill="none" stroke="#D9762E" stroke-width="2.5" stroke-opacity="0.78" stroke-linejoin="round" />
<polyline points="185.5,670.0 213.1,687.3 240.8,704.5 268.4,721.7 296.1,739.0 323.7,756.2 351.4,773.4 379.0,790.5 406.7,807.7 434.3,824.9 462.0,842.0 489.6,859.1 517.2,876.2 544.9,893.3 572.5,910.4 600.2,927.5 627.8,944.5 655.5,961.5 683.1,978.6 710.8,995.6 738.4,1012.6 766.1,1029.5 793.7,1046.5 821.4,1063.5 849.0,1080.4" fill="none" stroke="#D9762E" stroke-width="2.5" stroke-opacity="0.78" stroke-linejoin="round" />
<polyline points="185.5,670.0 198.0,702.0 211.0,729.0 224.0,739.0 300.0,752.0 849.0,863.1" fill="none" stroke="#D9762E" stroke-width="2.5" stroke-opacity="0.78" stroke-linejoin="round" />
<polyline points="185.5,670.0 199.0,706.0 213.0,733.0 228.0,743.0 300.0,756.0 849.0,866.9" fill="none" stroke="#D9762E" stroke-width="2.5" stroke-opacity="0.78" stroke-linejoin="round" />
<path d="M185.5,670.0 C187.9,672.7 191.3,679.7 200.0,686.0 C208.7,692.3 218.5,699.5 237.6,708.0 C256.6,716.5 288.7,727.8 314.3,736.7 C339.9,745.7 365.4,753.4 391.0,761.7 C416.6,770.0 446.3,778.9 467.8,786.6 C489.3,794.3 496.7,798.3 520.0,807.7 C543.3,817.1 579.5,831.6 607.7,843.0 C635.9,854.4 660.3,865.0 689.0,876.0 C717.7,887.0 753.3,899.0 780.0,909.0 C806.7,919.0 837.5,931.4 849.0,935.9" fill="none" stroke="#422C16" stroke-width="6.5" stroke-opacity="0.9" stroke-linejoin="round" />
<path d="M185.5,670.0 C187.9,673.3 194.5,683.7 200.0,690.0 C205.5,696.3 205.7,701.2 218.4,708.0 C231.1,714.8 253.6,722.7 276.0,731.0 C298.4,739.3 327.1,748.1 352.7,758.0 C378.3,767.9 401.5,779.0 429.4,790.5 C457.3,802.0 490.3,815.8 520.0,827.0 C549.7,838.2 579.5,848.0 607.7,858.0 C635.9,868.0 660.3,876.8 689.0,887.0 C717.7,897.2 753.3,909.1 780.0,919.0 C806.7,928.9 837.5,941.8 849.0,946.3" fill="none" stroke="#422C16" stroke-width="6.5" stroke-opacity="0.9" stroke-linejoin="round" />
<path d="M185.5,670.0 C187.9,674.2 191.3,686.1 200.0,695.0 C208.7,703.9 221.8,715.7 237.6,723.3 C253.4,730.9 275.8,733.2 295.0,740.6 C314.2,748.0 336.7,760.7 352.7,767.4 C368.7,774.1 378.2,776.5 391.0,781.0 C403.8,785.5 416.6,790.2 429.4,794.3 C442.2,798.4 452.7,802.6 467.8,805.8 C482.9,809.0 503.0,811.1 520.0,813.5 C537.0,815.9 546.3,817.2 570.0,820.0 C593.7,822.8 627.0,826.8 662.0,830.0 C697.0,833.2 748.8,835.8 780.0,839.0 C811.2,842.2 837.5,847.3 849.0,849.0" fill="none" stroke="#422C16" stroke-width="6.5" stroke-opacity="0.9" stroke-linejoin="round" />
<path d="M185.5,670.0 C185.9,671.5 185.8,672.7 188.0,679.0 C190.2,685.3 195.3,699.7 199.0,708.0 C202.7,716.3 206.7,723.5 210.0,729.0 C213.3,734.5 215.7,737.9 219.0,741.0 C222.3,744.1 223.7,745.3 230.0,747.5 C236.3,749.7 245.9,751.1 256.7,754.0 C267.5,756.9 282.2,760.8 295.0,764.6 C307.8,768.4 320.7,772.7 333.5,777.0 C346.3,781.3 356.0,784.4 372.0,790.5 C388.0,796.6 410.2,805.5 429.4,813.5 C448.6,821.5 468.6,831.1 487.0,838.4 C505.4,845.6 519.9,849.6 540.0,857.0 C560.1,864.4 585.2,873.8 607.7,883.0 C630.2,892.2 652.5,902.5 675.0,912.0 C697.5,921.5 714.0,927.7 743.0,940.0 C772.0,952.3 831.3,978.0 849.0,985.6" fill="none" stroke="#422C16" stroke-width="6.5" stroke-opacity="0.9" stroke-linejoin="round" />
<path d="M185.5,670.0 C187.9,672.5 194.2,680.5 200.0,685.0 C205.8,689.5 213.2,693.5 220.0,697.0 C226.8,700.5 233.0,703.4 241.0,705.7 C249.0,708.0 252.7,707.1 268.0,711.0 C283.3,714.9 317.5,724.8 333.0,729.0 C348.5,733.2 345.5,732.0 361.0,736.0 C376.5,740.0 410.7,749.0 426.0,753.0 C441.3,757.0 437.8,755.7 453.0,760.0 C468.2,764.3 501.7,774.8 517.0,779.0 C532.3,783.2 529.5,781.2 545.0,785.0 C560.5,788.8 594.2,798.2 610.0,802.0 C625.8,805.8 624.2,804.8 640.0,808.0 C655.8,811.2 689.7,817.3 705.0,821.0 C720.3,824.7 716.7,825.8 732.0,830.0 C747.3,834.2 781.5,842.2 797.0,846.0 C812.5,849.8 816.2,851.1 825.0,853.0 C833.8,854.9 845.8,856.8 850.0,857.5" fill="none" stroke="#4F230C" stroke-width="10" stroke-opacity="1" stroke-linejoin="round" stroke-dasharray="67 28.5"/>
</g>
<text x="665" y="845.5" transform="rotate(5 665 845.5)" font-family="'Liberation Sans', Arial, Helvetica, sans-serif" font-weight="bold" font-size="32.5" fill="#B8541C">Indonesia</text>
<text x="721.5" y="961" transform="rotate(18.5 721.5 961)" font-family="'Liberation Sans', Arial, Helvetica, sans-serif" font-weight="bold" font-size="32.5" fill="#B8541C">China</text>
<text x="480.5" y="1027.5" transform="rotate(6.5 480.5 1027.5)" font-family="'Liberation Sans', Arial, Helvetica, sans-serif" font-weight="bold" font-size="32.5" fill="#B8541C">Japan</text>
<text x="588" y="1058.5" transform="rotate(9.5 588 1058.5)" font-family="'Liberation Sans', Arial, Helvetica, sans-serif" font-weight="bold" font-size="32" fill="#B8541C">India</text>
<line x1="545" y1="1012" x2="615" y2="856" stroke="#B8541C" stroke-width="1.5"/>
<line x1="624" y1="1040" x2="691" y2="871" stroke="#B8541C" stroke-width="1.5"/>
<rect x="185.5" y="670" width="664.5" height="467.5" fill="none" stroke="#000" stroke-width="2.6"/>
<line x1="171.5" y1="670" x2="185.5" y2="670" stroke="#000" stroke-width="2.6"/>
<line x1="171.5" y1="903.5" x2="185.5" y2="903.5" stroke="#000" stroke-width="2.6"/>
<line x1="171.5" y1="1137.5" x2="185.5" y2="1137.5" stroke="#000" stroke-width="2.6"/>
<text x="167" y="679.8" text-anchor="end" font-family="'Liberation Sans', Arial, Helvetica, sans-serif" font-size="28" fill="#000">0</text>
<text x="167" y="913.3" text-anchor="end" font-family="'Liberation Sans', Arial, Helvetica, sans-serif" font-size="28" fill="#000">-40%</text>
<text x="167" y="1147.3" text-anchor="end" font-family="'Liberation Sans', Arial, Helvetica, sans-serif" font-size="28" fill="#000">-80%</text>
<line x1="185.5" y1="1137.5" x2="185.5" y2="1151.5" stroke="#000" stroke-width="2.6"/>
<line x1="318.4" y1="1137.5" x2="318.4" y2="1151.5" stroke="#000" stroke-width="2.6"/>
<line x1="451.3" y1="1137.5" x2="451.3" y2="1151.5" stroke="#000" stroke-width="2.6"/>
<line x1="584.2" y1="1137.5" x2="584.2" y2="1151.5" stroke="#000" stroke-width="2.6"/>
<line x1="717.1" y1="1137.5" x2="717.1" y2="1151.5" stroke="#000" stroke-width="2.6"/>
<line x1="850.0" y1="1137.5" x2="850.0" y2="1151.5" stroke="#000" stroke-width="2.6"/>
<text x="184.8" y="1179.6" text-anchor="middle" font-family="'Liberation Sans', Arial, Helvetica, sans-serif" font-size="28" fill="#000">0</text>
<text x="323.4" y="1179.6" text-anchor="middle" font-family="'Liberation Sans', Arial, Helvetica, sans-serif" font-size="28" fill="#000">200%</text>
<text x="456.2" y="1179.6" text-anchor="middle" font-family="'Liberation Sans', Arial, Helvetica, sans-serif" font-size="28" fill="#000">400%</text>
<text x="588.4" y="1179.6" text-anchor="middle" font-family="'Liberation Sans', Arial, Helvetica, sans-serif" font-size="28" fill="#000">600%</text>
<text x="721.3" y="1179.6" text-anchor="middle" font-family="'Liberation Sans', Arial, Helvetica, sans-serif" font-size="28" fill="#000">800%</text>
<text x="850.8" y="1179.6" text-anchor="middle" font-family="'Liberation Sans', Arial, Helvetica, sans-serif" font-size="28" fill="#000">1,000%</text>
<g clip-path="url(#cd)">
<polyline points="1062.5,670.0 1727.0,677.8" fill="none" stroke="#D9762E" stroke-width="2.5" stroke-opacity="0.78" stroke-linejoin="round" />
<polyline points="1062.5,670.0 1727.0,741.2" fill="none" stroke="#D9762E" stroke-width="2.5" stroke-opacity="0.78" stroke-linejoin="round" />
<polyline points="1062.5,670.0 1727.0,755.5" fill="none" stroke="#D9762E" stroke-width="2.5" stroke-opacity="0.78" stroke-linejoin="round" />
<polyline points="1062.5,670.0 1727.0,761.3" fill="none" stroke="#D9762E" stroke-width="2.5" stroke-opacity="0.78" stroke-linejoin="round" />
<polyline points="1062.5,670.0 1727.0,794.0" fill="none" stroke="#D9762E" stroke-width="2.5" stroke-opacity="0.78" stroke-linejoin="round" />
<polyline points="1062.5,670.0 1727.0,800.0" fill="none" stroke="#D9762E" stroke-width="2.5" stroke-opacity="0.78" stroke-linejoin="round" />
<polyline points="1062.5,670.0 1727.0,819.6" fill="none" stroke="#D9762E" stroke-width="2.5" stroke-opacity="0.78" stroke-linejoin="round" />
<polyline points="1062.5,670.0 1727.0,828.2" fill="none" stroke="#D9762E" stroke-width="2.5" stroke-opacity="0.78" stroke-linejoin="round" />
<polyline points="1062.5,670.0 1727.0,844.4" fill="none" stroke="#D9762E" stroke-width="2.5" stroke-opacity="0.78" stroke-linejoin="round" />
<polyline points="1062.5,670.0 1727.0,853.0" fill="none" stroke="#D9762E" stroke-width="2.5" stroke-opacity="0.78" stroke-linejoin="round" />
<polyline points="1062.5,670.0 1727.0,860.6" fill="none" stroke="#D9762E" stroke-width="2.5" stroke-opacity="0.78" stroke-linejoin="round" />
<polyline points="1062.5,670.0 1727.0,868.3" fill="none" stroke="#D9762E" stroke-width="2.5" stroke-opacity="0.78" stroke-linejoin="round" />
<polyline points="1062.5,670.0 1727.0,876.0" fill="none" stroke="#D9762E" stroke-width="2.5" stroke-opacity="0.78" stroke-linejoin="round" />
<polyline points="1062.5,670.0 1727.0,883.0" fill="none" stroke="#D9762E" stroke-width="2.5" stroke-opacity="0.78" stroke-linejoin="round" />
<polyline points="1062.5,670.0 1727.0,888.4" fill="none" stroke="#D9762E" stroke-width="2.5" stroke-opacity="0.78" stroke-linejoin="round" />
<polyline points="1062.5,670.0 1727.0,896.0" fill="none" stroke="#D9762E" stroke-width="2.5" stroke-opacity="0.78" stroke-linejoin="round" />
<polyline points="1062.5,670.0 1727.0,915.0" fill="none" stroke="#D9762E" stroke-width="2.5" stroke-opacity="0.78" stroke-linejoin="round" />
<polyline points="1062.5,670.0 1727.0,926.5" fill="none" stroke="#D9762E" stroke-width="2.5" stroke-opacity="0.78" stroke-linejoin="round" />
<polyline points="1062.5,670.0 1727.0,931.7" fill="none" stroke="#D9762E" stroke-width="2.5" stroke-opacity="0.78" stroke-linejoin="round" />
<polyline points="1062.5,670.0 1727.0,946.2" fill="none" stroke="#D9762E" stroke-width="2.5" stroke-opacity="0.78" stroke-linejoin="round" />
<polyline points="1062.5,670.0 1727.0,979.3" fill="none" stroke="#D9762E" stroke-width="2.5" stroke-opacity="0.78" stroke-linejoin="round" />
<polyline points="1062.5,670.0 1727.0,1002.0" fill="none" stroke="#D9762E" stroke-width="2.5" stroke-opacity="0.78" stroke-linejoin="round" />
<polyline points="1062.5,670.0 1727.0,1053.0" fill="none" stroke="#D9762E" stroke-width="2.5" stroke-opacity="0.78" stroke-linejoin="round" />
<polyline points="1062.5,670.0 1727.0,1067.5" fill="none" stroke="#D9762E" stroke-width="2.5" stroke-opacity="0.78" stroke-linejoin="round" />
<polyline points="1062.5,670.0 1727.0,1147.0" fill="none" stroke="#D9762E" stroke-width="2.5" stroke-opacity="0.78" stroke-linejoin="round" />
<polyline points="1062.5,670.0 1727.0,961.5" fill="none" stroke="#422C16" stroke-width="6.5" stroke-opacity="0.9" stroke-linejoin="round" />
<polyline points="1062.5,670.0 1727.0,1030.2" fill="none" stroke="#422C16" stroke-width="6.5" stroke-opacity="0.9" stroke-linejoin="round" />
<polyline points="1062.5,670.0 1727.0,1103.8" fill="none" stroke="#422C16" stroke-width="6.5" stroke-opacity="0.9" stroke-linejoin="round" />
<polyline points="1062.5,670.0 1727.0,1128.4" fill="none" stroke="#422C16" stroke-width="6.5" stroke-opacity="0.9" stroke-linejoin="round" />
<polyline points="1062.5,670.0 1727.0,907.0" fill="none" stroke="#4F230C" stroke-width="10" stroke-opacity="1" stroke-linejoin="round" stroke-dasharray="67 28.5"/>
</g>
<text x="1580" y="891" transform="rotate(20 1580 891)" font-family="'Liberation Sans', Arial, Helvetica, sans-serif" font-weight="bold" font-size="32.5" fill="#B8541C">China</text>
<text x="1588" y="944" transform="rotate(26.5 1588 944)" font-family="'Liberation Sans', Arial, Helvetica, sans-serif" font-weight="bold" font-size="32.5" fill="#B8541C">Indonesia</text>
<text x="1644" y="1035" transform="rotate(34 1644 1035)" font-family="'Liberation Sans', Arial, Helvetica, sans-serif" font-weight="bold" font-size="32.5" fill="#B8541C">India</text>
<text x="1583" y="1071" transform="rotate(33.5 1583 1071)" font-family="'Liberation Sans', Arial, Helvetica, sans-serif" font-weight="bold" font-size="32.5" fill="#B8541C">Japan</text>
<rect x="1062.5" y="670" width="665.0" height="467.5" fill="none" stroke="#000" stroke-width="2.6"/>
<line x1="1048.5" y1="670" x2="1062.5" y2="670" stroke="#000" stroke-width="2.6"/>
<line x1="1048.5" y1="903.5" x2="1062.5" y2="903.5" stroke="#000" stroke-width="2.6"/>
<line x1="1048.5" y1="1137.5" x2="1062.5" y2="1137.5" stroke="#000" stroke-width="2.6"/>
<text x="1045" y="679.8" text-anchor="end" font-family="'Liberation Sans', Arial, Helvetica, sans-serif" font-size="28" fill="#000">0</text>
<text x="1045" y="913.3" text-anchor="end" font-family="'Liberation Sans', Arial, Helvetica, sans-serif" font-size="28" fill="#000">-40%</text>
<text x="1045" y="1147.3" text-anchor="end" font-family="'Liberation Sans', Arial, Helvetica, sans-serif" font-size="28" fill="#000">-80%</text>
<line x1="1062.5" y1="1137.5" x2="1062.5" y2="1151.5" stroke="#000" stroke-width="2.6"/>
<line x1="1195.5" y1="1137.5" x2="1195.5" y2="1151.5" stroke="#000" stroke-width="2.6"/>
<line x1="1328.5" y1="1137.5" x2="1328.5" y2="1151.5" stroke="#000" stroke-width="2.6"/>
<line x1="1461.5" y1="1137.5" x2="1461.5" y2="1151.5" stroke="#000" stroke-width="2.6"/>
<line x1="1594.5" y1="1137.5" x2="1594.5" y2="1151.5" stroke="#000" stroke-width="2.6"/>
<line x1="1727.5" y1="1137.5" x2="1727.5" y2="1151.5" stroke="#000" stroke-width="2.6"/>
<text x="1062.5" y="1179" text-anchor="middle" font-family="'Liberation Sans', Arial, Helvetica, sans-serif" font-size="28" fill="#000">0</text>
<text x="1195.5" y="1179" text-anchor="middle" font-family="'Liberation Sans', Arial, Helvetica, sans-serif" font-size="28" fill="#000">-20%</text>
<text x="1328.6" y="1179" text-anchor="middle" font-family="'Liberation Sans', Arial, Helvetica, sans-serif" font-size="28" fill="#000">-40%</text>
<text x="1462.2" y="1179" text-anchor="middle" font-family="'Liberation Sans', Arial, Helvetica, sans-serif" font-size="28" fill="#000">-60%</text>
<text x="1594.9" y="1179" text-anchor="middle" font-family="'Liberation Sans', Arial, Helvetica, sans-serif" font-size="28" fill="#000">-80%</text>
<text x="1729.3" y="1179" text-anchor="middle" font-family="'Liberation Sans', Arial, Helvetica, sans-serif" font-size="28" fill="#000">-100%</text>
<text x="46" y="26" font-family="'Liberation Sans', Arial, Helvetica, sans-serif" font-weight="bold" font-size="45" fill="#000">a</text>
<text x="959" y="32" font-family="'Liberation Sans', Arial, Helvetica, sans-serif" font-weight="bold" font-size="45" fill="#000">b</text>
<text x="46" y="680.5" font-family="'Liberation Sans', Arial, Helvetica, sans-serif" font-weight="bold" font-size="45" fill="#000">c</text>
<text x="959" y="680.5" font-family="'Liberation Sans', Arial, Helvetica, sans-serif" font-weight="bold" font-size="45" fill="#000">d</text>
<text x="25" y="563" transform="rotate(-90 25 563)" text-anchor="middle" font-family="'Liberation Sans', Arial, Helvetica, sans-serif" font-size="33" fill="#000">Change in TRI at net-zero emissions</text>
<text x="941.5" y="563" transform="rotate(-90 941.5 563)" text-anchor="middle" font-family="'Liberation Sans', Arial, Helvetica, sans-serif" font-size="33" fill="#000">Change in TRI at net-zero emissions</text>
<text x="512.5" y="575" text-anchor="middle" font-family="'Liberation Sans', Arial, Helvetica, sans-serif" font-size="30.5" fill="#000">Increase in share of renewable energy</text>
<text x="1445" y="568" text-anchor="middle" font-family="'Liberation Sans', Arial, Helvetica, sans-serif" font-size="30.5" fill="#000">Increase in resource-owning</text>
<text x="1441" y="603.2" text-anchor="middle" font-family="'Liberation Sans', Arial, Helvetica, sans-serif" font-size="30.5" fill="#000">trade partners</text>
<text x="512.5" y="1222.4" text-anchor="middle" font-family="'Liberation Sans', Arial, Helvetica, sans-serif" font-size="30.5" fill="#000">Increase in recycling rate</text>
<text x="1441" y="1213.6" text-anchor="middle" font-family="'Liberation Sans', Arial, Helvetica, sans-serif" font-size="30.5" fill="#000">Decrease in material intensity</text>
<text x="1444.5" y="1248.5" text-anchor="middle" font-family="'Liberation Sans', Arial, Helvetica, sans-serif" font-size="30.5" fill="#000">of energy technologies</text>
</svg>
</body></html>
